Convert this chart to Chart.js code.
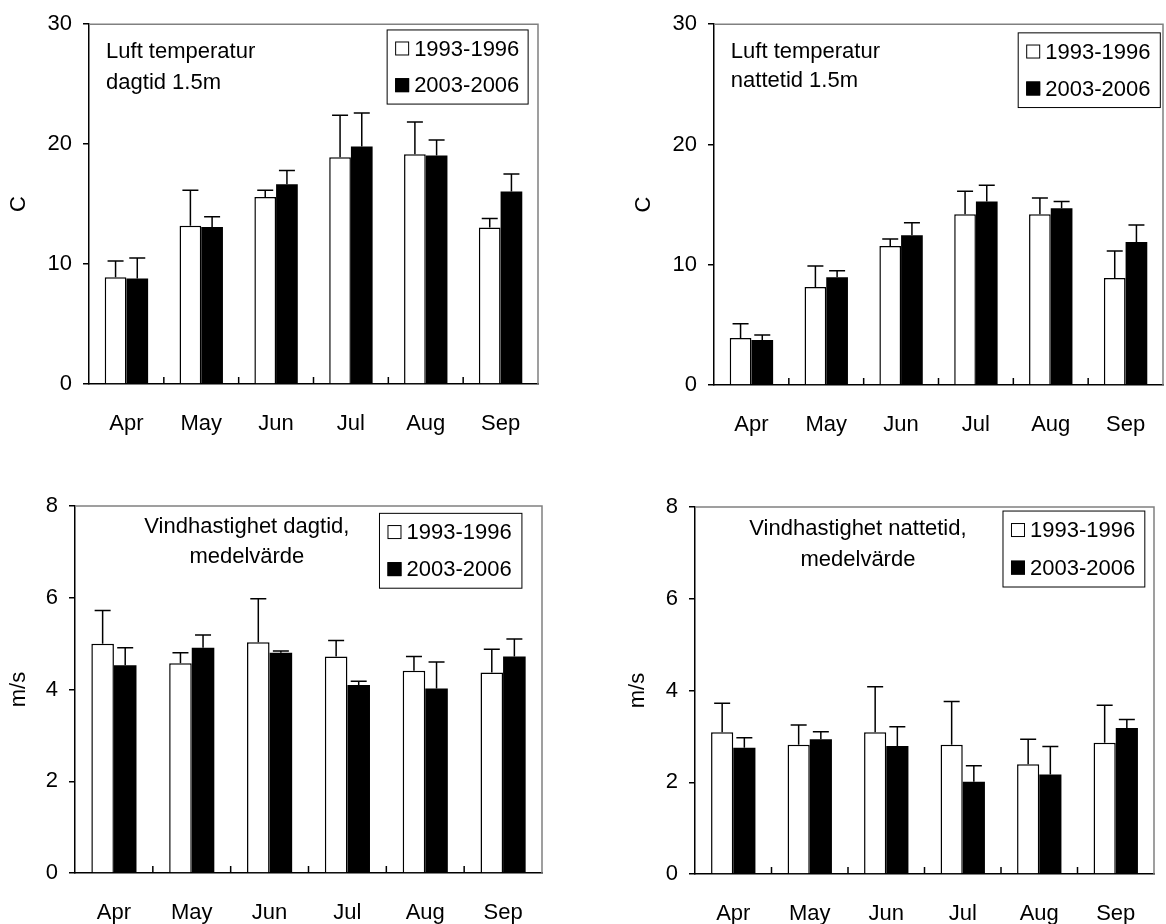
<!DOCTYPE html>
<html>
<head>
<meta charset="utf-8">
<script src="https://cdn.jsdelivr.net/npm/chart.js@4/dist/chart.umd.min.js"></script>
<style>
  html, body { margin: 0; padding: 0; background: #fff; }
  #wrap { position: relative; width: 1166px; height: 924px; }
  .panel { position: absolute; width: 583px; height: 462px; }
</style>
</head>
<body>
<div id="wrap">
  <div class="panel" style="left:0;top:0"><canvas id="c1" width="583" height="462"></canvas></div>
  <div class="panel" style="left:583px;top:0"><canvas id="c2" width="583" height="462"></canvas></div>
  <div class="panel" style="left:0;top:462px"><canvas id="c3" width="583" height="462"></canvas></div>
  <div class="panel" style="left:583px;top:462px"><canvas id="c4" width="583" height="462"></canvas></div>
</div>
<script>
// kategorier och serier
const months  = ['Apr', 'May', 'Jun', 'Jul', 'Aug', 'Sep'];
const periods = ['1993-1996', '2003-2006'];

// luft temperatur dagtid 1.5m (C)
const tempDay9396    = [8.9, 13.2, 15.6, 18.9, 19.15, 13.05];
const tempDay9396Err = [1.35, 2.95, 0.55, 3.5, 2.7, 0.75];
const tempDay0306    = [8.8, 13.1, 16.65, 19.8, 19.05, 16.05];
const tempDay0306Err = [1.7, 0.85, 1.15, 2.8, 1.3, 1.45];

// luft temperatur nattetid 1.5m (C)
const tempNight9396    = [3.9, 8.15, 11.55, 14.2, 14.2, 8.9];
const tempNight9396Err = [1.2, 1.75, 0.6, 1.9, 1.35, 2.25];
const tempNight0306    = [3.75, 8.95, 12.45, 15.25, 14.7, 11.9];
const tempNight0306Err = [0.4, 0.55, 1.05, 1.35, 0.55, 1.4];

// vindhastighet dagtid (m/s)
const windDay9396    = [5.0, 4.57, 5.03, 4.72, 4.41, 4.37];
const windDay9396Err = [0.72, 0.23, 0.95, 0.35, 0.31, 0.51];
const windDay0306    = [4.53, 4.91, 4.8, 4.1, 4.02, 4.72];
const windDay0306Err = [0.38, 0.28, 0.04, 0.08, 0.58, 0.38];

// vindhastighet nattetid (m/s)
const windNight9396    = [3.09, 2.82, 3.09, 2.82, 2.39, 2.86];
const windNight9396Err = [0.63, 0.43, 0.99, 0.94, 0.55, 0.82];
const windNight0306    = [2.75, 2.94, 2.79, 2.01, 2.17, 3.18];
const windNight0306Err = [0.22, 0.16, 0.42, 0.35, 0.61, 0.19];

const FONT = '"Liberation Sans", Arial, sans-serif';
const FS = 22;

// placering av varje diagram (sidans pixlar)
const panels = [
  { id: 'c1', cx: 0, cy: 0, plot: [89, 21, 538, 384], yTitle: 'C', yTitleX: 19, yMax: 30, step: 10,
    a: tempDay9396, aErr: tempDay9396Err, b: tempDay0306, bErr: tempDay0306Err,
    text: ['Luft temperatur', 'dagtid 1.5m'], align: 'left', textX: 0.038, textY: [0.078, 0.162],
    legend: [0.664, 0.016, 0.978, 0.222] },
  { id: 'c2', cx: 583, cy: 0, plot: [714, 21, 1163, 385], yTitle: 'C', yTitleX: 644, yMax: 30, step: 10,
    a: tempNight9396, aErr: tempNight9396Err, b: tempNight0306, bErr: tempNight0306Err,
    text: ['Luft temperatur', 'nattetid 1.5m'], align: 'left', textX: 0.0375, textY: [0.076, 0.158],
    legend: [0.6775, 0.024, 0.994, 0.231] },
  { id: 'c3', cx: 0, cy: 462, plot: [75, 506, 542, 873], yTitle: 'm/s', yTitleX: 19, yMax: 8, step: 2,
    a: windDay9396, aErr: windDay9396Err, b: windDay0306, bErr: windDay0306Err,
    text: ['Vindhastighet dagtid,', 'medelvärde'], align: 'center', textX: 0.368, textY: [0.057, 0.138],
    legend: [0.652, 0.02, 0.957, 0.224] },
  { id: 'c4', cx: 583, cy: 462, plot: [695, 507, 1154, 874], yTitle: 'm/s', yTitleX: 638, yMax: 8, step: 2,
    a: windNight9396, aErr: windNight9396Err, b: windNight0306, bErr: windNight0306Err,
    text: ['Vindhastighet nattetid,', 'medelvärde'], align: 'center', textX: 0.355, textY: [0.061, 0.143],
    legend: [0.671, 0.011, 0.98, 0.218] }
];

// felstaplar, ramar, texter och legend
const decor = {
  id: 'decor',
  afterDatasetsDraw(chart, args, p) {
    const ctx = chart.ctx, ca = chart.chartArea, ys = chart.scales.y, xs = chart.scales.x;
    const w = ca.right - ca.left, h = ca.bottom - ca.top;
    ctx.save();
    ctx.strokeStyle = '#000';
    ctx.lineWidth = 1.5;

    chart.data.datasets.forEach((ds, i) => {
      chart.getDatasetMeta(i).data.forEach((bar, j) => {
        const top = ys.getPixelForValue(ds.data[j] + ds.errors[j]);
        ctx.beginPath();
        ctx.moveTo(bar.x, bar.y);
        ctx.lineTo(bar.x, top);
        ctx.moveTo(bar.x - 8, top);
        ctx.lineTo(bar.x + 8, top);
        ctx.stroke();
      });
    });

    // små streck mellan månaderna
    const step = xs.getPixelForValue(1) - xs.getPixelForValue(0);
    ctx.beginPath();
    for (let i = 1; i < months.length; i++) {
      const px = xs.getPixelForValue(i) - step / 2;
      ctx.moveTo(px, ca.bottom);
      ctx.lineTo(px, ca.bottom - 7);
    }
    ctx.stroke();

    // grå ram uppe och till höger
    ctx.strokeStyle = '#808080';
    ctx.beginPath();
    ctx.moveTo(ca.left, ca.top);
    ctx.lineTo(ca.right, ca.top);
    ctx.lineTo(ca.right, ca.bottom);
    ctx.stroke();

    ctx.fillStyle = '#000';
    ctx.font = FS + 'px ' + FONT;
    ctx.textBaseline = 'middle';

    // axeltitel
    ctx.save();
    ctx.translate(p.yTitleX - p.cx, (ca.top + ca.bottom) / 2);
    ctx.rotate(-Math.PI / 2);
    ctx.textAlign = 'center';
    ctx.fillText(p.yTitle, 0, 0);
    ctx.restore();

    // panelens text
    ctx.textAlign = p.align;
    p.text.forEach((t, k) => ctx.fillText(t, ca.left + p.textX * w, ca.top + p.textY[k] * h));

    // legend
    const [l0, t0, r0, b0] = p.legend;
    const bx = ca.left + l0 * w, by = ca.top + t0 * h;
    const bw = (r0 - l0) * w, bh = (b0 - t0) * h;
    ctx.strokeStyle = '#000';
    ctx.lineWidth = 1;
    ctx.strokeRect(bx, by, bw, bh);
    ctx.textAlign = 'left';
    chart.data.datasets.forEach((ds, i) => {
      const cy = by + bh * (i === 0 ? 0.25 : 0.745);
      const sx = bx + 8, sz = 14;
      ctx.fillStyle = ds.backgroundColor;
      ctx.fillRect(sx, cy - sz / 2, sz, sz);
      ctx.strokeRect(sx + 0.5, cy - sz / 2 + 0.5, sz - 1, sz - 1);
      ctx.fillStyle = '#000';
      ctx.fillText(ds.label, bx + 27, cy + 1);
    });
    ctx.restore();
  }
};

function makeChart(p) {
  const [pl, pt, pr, pb] = p.plot;
  new Chart(document.getElementById(p.id), {
    type: 'bar',
    data: {
      labels: months,
      datasets: [
        { label: periods[0], data: p.a, errors: p.aErr, backgroundColor: '#fff', borderColor: '#000', borderWidth: 1.5 },
        { label: periods[1], data: p.b, errors: p.bErr, backgroundColor: '#000', borderColor: '#000', borderWidth: 0 }
      ]
    },
    options: {
      responsive: false,
      animation: false,
      categoryPercentage: 0.58,
      barPercentage: 1.0,
      layout: { padding: { left: 0, top: pt - p.cy, right: p.cx + 583 - pr, bottom: 0 } },
      scales: {
        x: {
          grid: { display: false },
          border: { color: '#000', width: 1.5 },
          ticks: { color: '#000', font: { family: FONT, size: FS }, padding: 19 },
          afterFit: s => { s.height = p.cy + 462 - pb; }
        },
        y: {
          min: 0, max: p.yMax,
          grid: { drawOnChartArea: false, tickLength: 6, color: '#000', lineWidth: 1.5 },
          border: { color: '#000', width: 1.5 },
          ticks: { stepSize: p.step, color: '#000', font: { family: FONT, size: FS }, padding: 11 },
          afterFit: s => { s.width = pl - p.cx; }
        }
      },
      plugins: {
        legend: { display: false },
        tooltip: { enabled: false },
        decor: p
      }
    },
    plugins: [decor]
  });
}

panels.forEach(makeChart);
</script>
</body>
</html>
